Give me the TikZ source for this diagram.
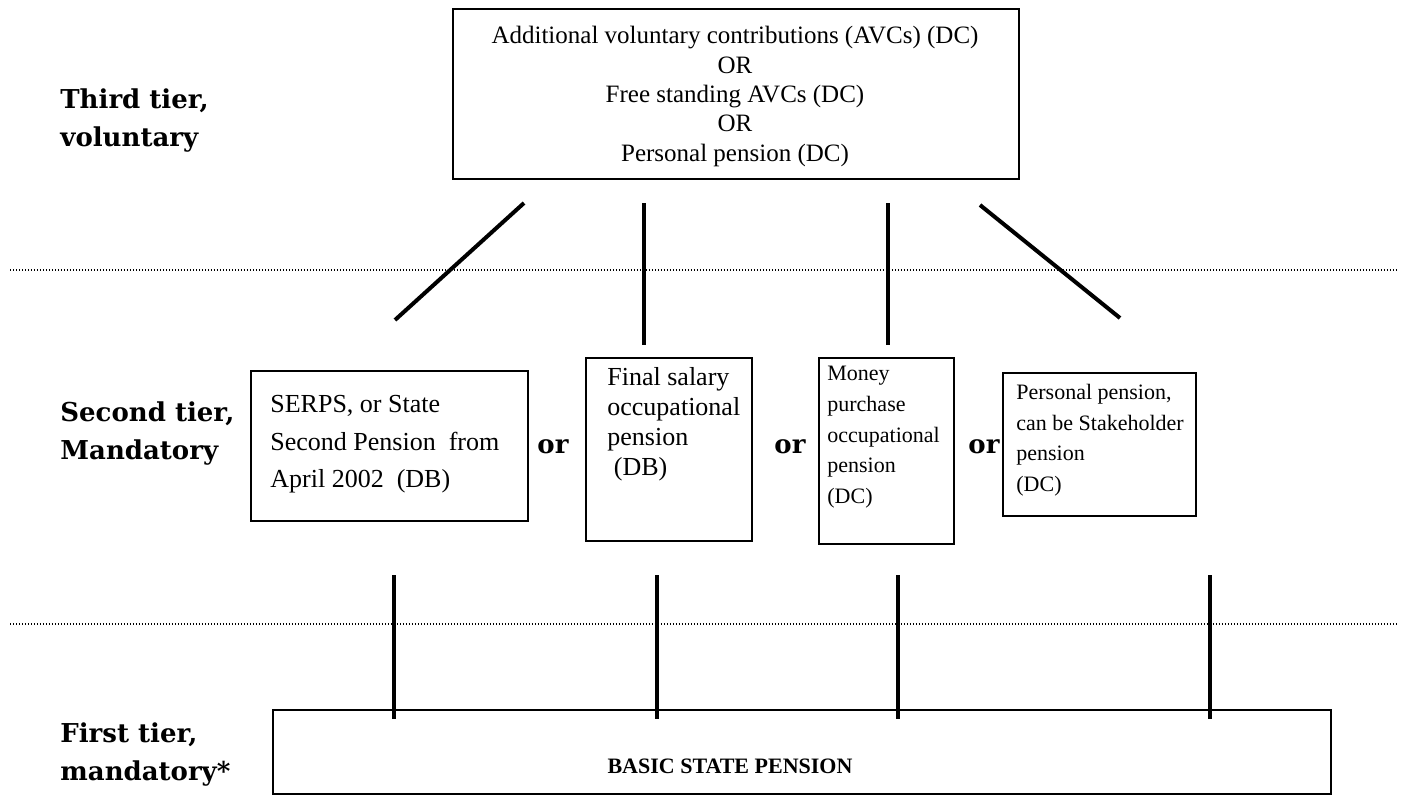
\documentclass[tikz,border=0pt]{standalone}
\usepackage{fontspec}
\setmainfont{Liberation Serif}
\newfontfamily\tierfont{DejaVu Serif}
\usetikzlibrary{positioning}

\begin{document}
\begin{tikzpicture}[x=0.5pt,y=-0.5pt,
		box/.style={draw,line width=0.8pt,inner sep=0pt,anchor=north west},
		txt/.style={font=\fontsize{13}{15}\selectfont,align=left,inner sep=0pt,anchor=north west},
		small/.style={font=\fontsize{11}{15.3}\selectfont},
		tier/.style={font=\tierfont\bfseries\fontsize{13}{19}\selectfont,align=left,inner sep=0pt,anchor=north west},
		oder/.style={font=\tierfont\bfseries\fontsize{13}{15}\selectfont,inner sep=0pt},
		conn/.style={line width=2pt},
		ebene/.style={line width=0.6pt,dash pattern=on 0.6pt off 0.9pt}]
		\useasboundingbox (0,0) rectangle (1405,794);
		
		% Ebenen
		\coordinate (L1) at (10,270);
		\coordinate (R1) at (1398,270);
		\coordinate (L2) at (10,624);
		\coordinate (R2) at (1398,624);
		\draw[ebene] (L1) -- (R1);
		\draw[ebene] (L2) -- (R2);
		
		% Beschriftung links
		\node[tier] (third) at (60,88) {Third tier,\\voluntary};
		\node[tier] (second) at (60,401) {Second tier,\\Mandatory};
		\node[tier] (first) at (60,722) {First tier,\\mandatory*};
		
		% Dritte Stufe
		\node[box,minimum width=283pt,minimum height=85pt] (avc) at (452,8) {};
		\node[txt,align=center,anchor=north,font=\fontsize{12.5}{14.7}\selectfont] (avctext) at (735,26)
			{Additional voluntary contributions (AVCs) (DC)\\OR\\Free standing AVCs (DC)\\OR\\Personal pension (DC)};
		
		% Zweite Stufe
		\node[box,minimum width=138.5pt,minimum height=75pt] (serps) at (250,370) {};
		\node[txt,font=\fontsize{13}{18.8}\selectfont] (serpstext) at (270,395)
			{SERPS, or State\\Second Pension\ \ from\\April 2002\ \ (DB)};
		\node[box,minimum width=83pt,minimum height=91.5pt] (final) at (585,357) {};
		\node[txt] (finaltext) at (607,367)
			{Final salary\\occupational\\pension\\\ (DB)};
		\node[box,minimum width=67.5pt,minimum height=93pt] (money) at (818,357) {};
		\node[txt,small] (moneytext) at (827,366)
			{Money\\purchase\\occupational\\pension\\(DC)};
		\node[box,minimum width=96.5pt,minimum height=71.5pt] (personal) at (1002,372) {};
		\node[txt,small] (personaltext) at (1016,384)
			{Personal pension,\\can be Stakeholder\\pension\\(DC)};
		
		\node[oder] (or1) at (553,447) {or};
		\node[oder] (or2) at (790,447) {or};
		\node[oder] (or3) at (984,447) {or};
		
		% Erste Stufe
		\node[box,minimum width=529pt,minimum height=42pt] (basic) at (272,709) {};
		\node[font=\bfseries\fontsize{11}{13}\selectfont,inner sep=0pt] (basictext) at (730,766) {BASIC STATE PENSION};
		
		% Verbindungen oben
		\coordinate (A1) at (524,203);
		\coordinate (A2) at (644,203);
		\coordinate (A3) at (888,203);
		\coordinate (A4) at (980,205);
		\coordinate (B1) at (395,320);
		\coordinate (B2) at (644,345);
		\coordinate (B3) at (888,345);
		\coordinate (B4) at (1120,318);
		\foreach \i in {1,...,4}
			\draw[conn] (A\i) -- (B\i);
		
		% Verbindungen unten
		\foreach \x [count=\i] in {394,657,898,1210} {
			\coordinate (C\i) at (\x,575);
			\coordinate (D\i) at (\x,719);
			\draw[conn] (C\i) -- (D\i);
		}
	\end{tikzpicture}
\end{document}
